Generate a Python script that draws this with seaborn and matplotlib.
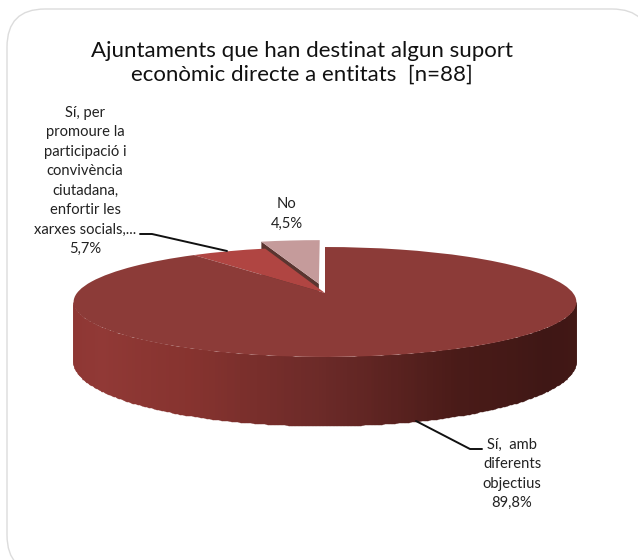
import numpy as np
import matplotlib
matplotlib.use("Agg")
import matplotlib.pyplot as plt
from matplotlib.colors import LinearSegmentedColormap
from matplotlib.patches import FancyBboxPatch
from matplotlib.transforms import Transform
import seaborn as sns

# pie data, clockwise from 12 o'clock
labels = ["Sí,  amb\ndiferents\nobjectius\n89,8%",
          "Sí, per\npromoure la\nparticipació i\nconvivència\nciutadana,\nenfortir les\nxarxes socials,...\n5,7%",
          "No\n4,5%"]
shares = [89.8, 5.7, 4.5]
explode = [0, 0, 0.18]

title = "Ajuntaments que han destinat algun suport\neconòmic directe a entitats  [n=88]"

top_colors = ["#8c3b38", "#b04542", "#c59b9b"]
wall_colors = ["#8d3633", "#913936", "#86332f", "#6b2a28", "#4a1b18", "#3f1715", "#431815"]

# view of the tilted disc, in pixels
cx, cy = 325, 293
rx, ry = 248, 53.5
tilt = 0.1636
depth = 58


class Tilted(Transform):
    input_dims = output_dims = 2

    def __init__(self, drop=0):
        super().__init__()
        self.drop = drop

    def transform_non_affine(self, xy):
        xy = np.asarray(xy, dtype=float)
        w = 1 + tilt * xy[:, 1]
        return np.column_stack([cx + rx * xy[:, 0] / w,
                                cy - ry * xy[:, 1] / w + self.drop / w])


sns.set_theme(style="white")
plt.rcParams["font.family"] = ["Lato", "DejaVu Sans"]

fig = plt.figure(figsize=(6.38, 5.6), dpi=100)
ax = fig.add_axes([0, 0, 1, 1])

wedges, _ = ax.pie(shares, explode=explode, colors=top_colors, startangle=90,
                   counterclock=False, radius=1)
ax.set_aspect("auto")
ax.set_xlim(0, 638)
ax.set_ylim(560, 0)
ax.axis("off")

flat = Tilted()
for w in wedges:
    w.set_transform(flat + ax.transData)
    w.set_linewidth(0)
wedges[0].set_zorder(5)
wedges[1].set_zorder(4)
wedges[2].set_zorder(3)

# front wall of the disc, between the two silhouette points
side = np.degrees(np.arcsin(tilt))
theta = np.radians(np.linspace(180 + side, 360 - side, 240))
edge = np.column_stack([np.cos(theta), np.sin(theta)])
upper = Tilted().transform_non_affine(edge)
lower = Tilted(depth).transform_non_affine(edge)
wall_x = np.vstack([upper[:, 0], lower[:, 0]])
wall_y = np.vstack([upper[:, 1], lower[:, 1]])
shade = np.linspace(0, 1, len(theta) - 1)[None, :]
wall_cmap = LinearSegmentedColormap.from_list("wall", wall_colors)
ax.pcolormesh(wall_x, wall_y, shade, cmap=wall_cmap, shading="flat", zorder=2,
              antialiased=True, edgecolors="face", linewidth=0.3)

# cut face of the pulled out slice
no_mid = np.radians(90 - 360 * (shares[0] + shares[1] + shares[2] / 2) / 100 + 360)
no_edge = np.radians(90 - 360 * (shares[0] + shares[1]) / 100 + 360)
off = explode[2] * np.array([np.cos(no_mid), np.sin(no_mid)])
cut = np.array([off, off + [np.cos(no_edge), np.sin(no_edge)]])
cut_top = Tilted().transform_non_affine(cut)
cut_low = Tilted(depth).transform_non_affine(cut)
ax.fill(np.r_[cut_top[:, 0], cut_low[::-1, 0]], np.r_[cut_top[:, 1], cut_low[::-1, 1]],
        color="#5a3530", lw=0, zorder=2.5)

frame = FancyBboxPatch((45, 47), 567, 488, boxstyle="round,pad=38,rounding_size=38",
                       fc="white", ec="#dcdcdc", lw=1, zorder=0)
ax.add_patch(frame)

ax.text(302, 63, title, ha="center", va="center", fontsize=16, color="#111111",
        linespacing=1.27, zorder=6)

label_style = dict(ha="center", va="center", fontsize=10.6, color="#222222", linespacing=1.5)
ax.text(512, 474, labels[0], zorder=6, **label_style)
ax.text(85, 181, labels[1], zorder=6, **label_style)
ax.text(287, 214, labels[2], zorder=6, **label_style)

ax.plot([140, 152, 227], [234, 234, 251], color="#111111", lw=1.4, zorder=6)
ax.plot([416, 470, 482], [421, 449, 449], color="#111111", lw=1.4, zorder=6)

fig.savefig("out.png", dpi=100)
